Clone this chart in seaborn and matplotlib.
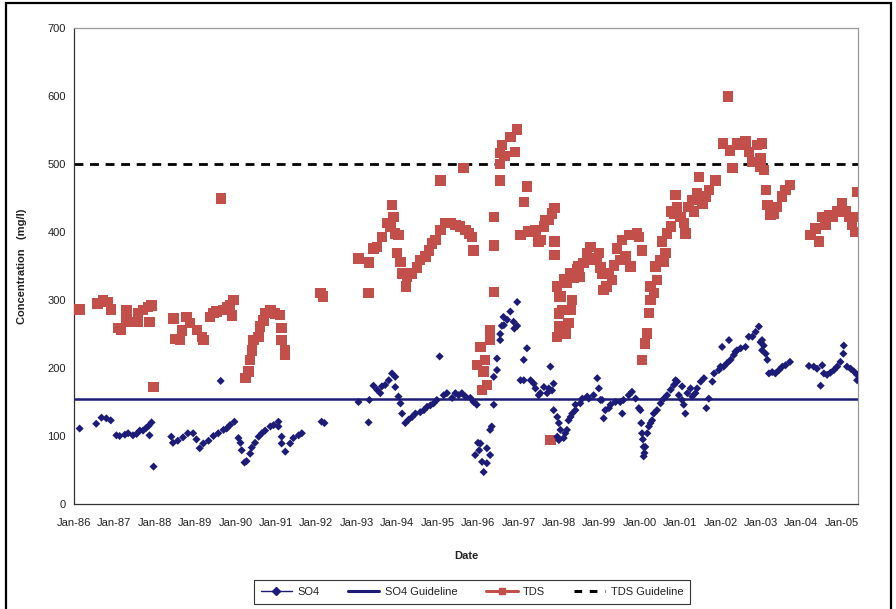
import numpy as np
import pandas as pd
import matplotlib
matplotlib.use("Agg")
import matplotlib.pyplot as plt
import matplotlib.dates as mdates
from matplotlib import font_manager
from matplotlib.lines import Line2D
from matplotlib.patches import Rectangle
import seaborn as sns

# ---- data: sample dates as decimal years, concentrations in mg/l ----
tds_year = [
    1986.14, 1986.58, 1986.72, 1986.84, 1986.91, 1987.09, 1987.17, 1987.30, 1987.30, 1987.38,
    1987.59, 1987.59, 1987.71, 1987.83, 1987.92, 1987.87, 1987.97, 1988.46, 1988.50, 1988.63,
    1988.67, 1988.79, 1988.87, 1989.04, 1989.16, 1989.20, 1989.37, 1989.45, 1989.53, 1989.63,
    1989.70, 1989.78, 1989.86, 1989.95, 1989.91, 1990.24, 1990.32, 1990.36, 1990.40, 1990.44,
    1990.57, 1990.61, 1990.69, 1990.73, 1990.86, 1990.98, 1991.10, 1991.14, 1991.14, 1991.23,
    1991.23, 1992.10, 1992.17, 1993.04, 1993.29, 1993.30, 1993.41, 1993.50, 1993.62, 1993.75,
    1993.83, 1993.87, 1993.91, 1993.95, 1994.03, 1993.99, 1994.08, 1994.12, 1994.22, 1994.24,
    1994.36, 1994.49, 1994.57, 1994.70, 1994.78, 1994.86, 1994.95, 1995.07, 1995.07, 1995.19,
    1995.32, 1995.44, 1995.56, 1995.64, 1995.69, 1995.77, 1995.85, 1995.89, 1995.97, 1996.06,
    1996.10, 1996.14, 1996.18, 1996.22, 1996.30, 1996.30, 1996.39, 1996.39, 1996.39, 1996.55,
    1996.55, 1996.55, 1996.59, 1996.66, 1996.80, 1996.92, 1996.97, 1997.05, 1997.13, 1997.21,
    1997.25, 1997.38, 1997.42, 1997.50, 1997.54, 1997.63, 1997.67, 1997.75, 1997.83, 1997.89,
    1997.89, 1997.89, 1997.79, 1997.96, 1997.96, 1998.00, 1998.00, 1998.02, 1998.04, 1998.08,
    1998.12, 1998.16, 1998.20, 1998.24, 1998.29, 1998.29, 1998.33, 1998.37, 1998.45, 1998.49,
    1998.53, 1998.61, 1998.70, 1998.78, 1998.86, 1998.95, 1998.99, 1999.03, 1999.07, 1999.11,
    1999.18, 1999.24, 1999.32, 1999.36, 1999.44, 1999.52, 1999.57, 1999.65, 1999.73, 1999.77,
    1999.85, 1999.94, 1999.98, 2000.06, 2000.06, 2000.14, 2000.19, 2000.23, 2000.27, 2000.27,
    2000.35, 2000.39, 2000.43, 2000.52, 2000.56, 2000.60, 2000.64, 2000.68, 2000.77, 2000.77,
    2000.85, 2000.89, 2000.93, 2001.01, 2001.09, 2001.13, 2001.21, 2001.30, 2001.34, 2001.42,
    2001.47, 2001.55, 2001.63, 2001.71, 2001.88, 2002.06, 2002.18, 2002.23, 2002.30, 2002.41,
    2002.50, 2002.62, 2002.70, 2002.79, 2002.91, 2002.99, 2002.99, 2003.03, 2003.07, 2003.12,
    2003.16, 2003.24, 2003.32, 2003.40, 2003.53, 2003.61, 2003.72, 2004.23, 2004.35, 2004.44,
    2004.52, 2004.60, 2004.68, 2004.77, 2004.89, 2005.01, 2005.10, 2005.18, 2005.26, 2005.30,
    2005.34, 2005.39,
]
tds_value = [
    286, 295, 300, 297, 286, 259, 256, 285, 270, 268,
    268, 281, 285, 290, 292, 268, 172, 273, 243, 241,
    255, 275, 266, 256, 246, 241, 275, 281, 283, 449,
    285, 290, 293, 300, 277, 185, 195, 212, 226, 241,
    246, 261, 270, 281, 285, 280, 278, 259, 241, 226,
    219, 310, 305, 361, 310, 355, 376, 378, 393, 413,
    408, 440, 422, 398, 396, 369, 356, 339, 320, 334,
    339, 348, 359, 364, 373, 383, 388, 476, 403, 413,
    413, 410, 408, 494, 403, 398, 393, 373, 204, 231,
    168, 195, 212, 175, 255, 241, 422, 380, 312, 476,
    516, 500, 528, 512, 540, 518, 551, 396, 444, 467,
    401, 400, 403, 386, 388, 408, 418, 418, 427, 435,
    386, 366, 94, 320, 246, 280, 304, 261, 305, 285,
    330, 251, 325, 266, 285, 339, 300, 332, 345, 349,
    334, 354, 369, 378, 359, 362, 369, 348, 339, 315,
    320, 339, 329, 351, 376, 359, 388, 364, 396, 349,
    396, 398, 393, 373, 212, 236, 251, 281, 300, 320,
    310, 349, 329, 359, 386, 356, 369, 398, 408, 430,
    427, 454, 437, 422, 413, 398, 437, 447, 430, 457,
    481, 442, 452, 462, 476, 530, 599, 520, 494, 530,
    528, 533, 518, 503, 528, 508, 496, 530, 491, 462,
    440, 425, 427, 437, 452, 462, 469, 396, 405, 386,
    422, 410, 425, 422, 430, 442, 430, 422, 410, 422,
    400, 459,
]

so4_year = [
    1986.14, 1986.55, 1986.68, 1986.80, 1986.91, 1987.05, 1987.13, 1987.26, 1987.34, 1987.46,
    1987.55, 1987.63, 1987.71, 1987.79, 1987.85, 1987.92, 1987.87, 1987.97, 1988.41, 1988.45,
    1988.57, 1988.70, 1988.82, 1988.95, 1989.03, 1989.11, 1989.20, 1989.33, 1989.45, 1989.57,
    1989.63, 1989.70, 1989.78, 1989.86, 1989.97, 1990.07, 1990.12, 1990.15, 1990.22, 1990.27,
    1990.36, 1990.40, 1990.48, 1990.57, 1990.65, 1990.73, 1990.86, 1990.94, 1991.06, 1991.06,
    1991.14, 1991.14, 1991.23, 1991.35, 1991.43, 1991.56, 1991.64, 1992.13, 1992.20, 1993.04,
    1993.29, 1993.31, 1993.41, 1993.50, 1993.58, 1993.62, 1993.70, 1993.79, 1993.87, 1993.95,
    1993.95, 1994.03, 1994.08, 1994.12, 1994.20, 1994.28, 1994.37, 1994.45, 1994.57, 1994.66,
    1994.74, 1994.82, 1994.90, 1994.98, 1995.05, 1995.15, 1995.23, 1995.36, 1995.44, 1995.52,
    1995.60, 1995.69, 1995.81, 1995.89, 1995.97, 1995.93, 1996.00, 1996.03, 1996.06, 1996.10,
    1996.14, 1996.22, 1996.22, 1996.30, 1996.30, 1996.34, 1996.39, 1996.39, 1996.47, 1996.47,
    1996.55, 1996.55, 1996.59, 1996.63, 1996.64, 1996.72, 1996.80, 1996.88, 1996.90, 1996.97,
    1996.97, 1997.05, 1997.13, 1997.13, 1997.21, 1997.30, 1997.38, 1997.42, 1997.50, 1997.54,
    1997.63, 1997.71, 1997.75, 1997.79, 1997.83, 1997.87, 1997.87, 1997.96, 1997.96, 1998.00,
    1998.00, 1998.04, 1998.12, 1998.16, 1998.20, 1998.24, 1998.29, 1998.33, 1998.41, 1998.41,
    1998.53, 1998.58, 1998.70, 1998.74, 1998.86, 1998.95, 1998.99, 1999.03, 1999.07, 1999.11,
    1999.15, 1999.24, 1999.28, 1999.40, 1999.52, 1999.57, 1999.60, 1999.73, 1999.81, 1999.90,
    1999.98, 2000.02, 2000.04, 2000.06, 2000.08, 2000.10, 2000.10, 2000.12, 2000.14, 2000.19,
    2000.23, 2000.27, 2000.31, 2000.35, 2000.43, 2000.52, 2000.60, 2000.68, 2000.77, 2000.85,
    2000.89, 2000.93, 2000.97, 2001.05, 2001.05, 2001.09, 2001.13, 2001.18, 2001.26, 2001.30,
    2001.38, 2001.42, 2001.51, 2001.59, 2001.65, 2001.71, 2001.80, 2001.84, 2001.96, 2002.00,
    2002.04, 2002.08, 2002.16, 2002.21, 2002.25, 2002.33, 2002.37, 2002.41, 2002.50, 2002.62,
    2002.70, 2002.79, 2002.87, 2002.95, 2002.99, 2003.03, 2003.03, 2003.07, 2003.12, 2003.16,
    2003.20, 2003.28, 2003.36, 2003.45, 2003.53, 2003.61, 2003.72, 2004.19, 2004.31, 2004.39,
    2004.48, 2004.52, 2004.56, 2004.64, 2004.72, 2004.81, 2004.89, 2004.97, 2005.04, 2005.05,
    2005.13, 2005.22, 2005.30, 2005.38, 2005.38,
]
so4_value = [
    111, 118, 127, 126, 123, 101, 100, 102, 104, 101,
    103, 108, 108, 112, 115, 120, 101, 55, 99, 90,
    93, 98, 104, 104, 95, 82, 89, 93, 100, 104,
    181, 109, 111, 116, 121, 97, 90, 79, 61, 63,
    74, 83, 90, 99, 104, 108, 114, 116, 121, 114,
    99, 89, 77, 89, 97, 101, 104, 121, 119, 150,
    120, 153, 174, 168, 163, 173, 175, 182, 192, 187,
    172, 158, 148, 133, 119, 124, 128, 133, 135, 138,
    143, 145, 148, 153, 217, 160, 163, 156, 163, 160,
    163, 158, 156, 150, 146, 72, 90, 79, 89, 62,
    47, 82, 60, 72, 109, 114, 146, 187, 197, 214,
    241, 250, 262, 275, 263, 271, 283, 268, 258, 262,
    297, 182, 182, 212, 229, 182, 177, 170, 160, 163,
    172, 163, 170, 202, 167, 177, 138, 128, 99, 119,
    94, 109, 97, 104, 109, 123, 128, 133, 138, 146,
    148, 155, 158, 155, 160, 185, 170, 153, 153, 126,
    138, 141, 146, 150, 150, 133, 153, 160, 165, 155,
    141, 138, 119, 104, 95, 84, 70, 75, 84, 104,
    114, 119, 123, 133, 138, 148, 155, 160, 168, 175,
    182, 180, 160, 153, 173, 146, 133, 163, 170, 158,
    163, 170, 180, 185, 141, 155, 180, 192, 197, 202,
    231, 202, 207, 241, 212, 219, 224, 226, 229, 231,
    246, 246, 253, 261, 238, 226, 241, 233, 221, 212,
    192, 194, 192, 197, 202, 204, 209, 203, 202, 199,
    174, 204, 192, 190, 193, 197, 202, 209, 221, 233,
    202, 199, 195, 190, 182,
]

so4_guideline = 155
tds_guideline = 500

y_ticks = [0, 100, 200, 300, 400, 500, 600, 700]
x_tick_years = list(range(1986, 2006))


def to_date(dec_year):
    whole = int(dec_year)
    return pd.Timestamp(year=whole, month=1, day=1) + pd.Timedelta(days=(dec_year - whole) * 365.25)


tds = pd.DataFrame({"date": [to_date(y) for y in tds_year], "conc": tds_value})
so4 = pd.DataFrame({"date": [to_date(y) for y in so4_year], "conc": so4_value})

# ---- style ----
sns.set_theme(style="white")
available = {f.name for f in font_manager.fontManager.ttflist}
family = "Liberation Sans Narrow" if "Liberation Sans Narrow" in available else "Liberation Sans"
plt.rcParams["font.family"] = [family, "DejaVu Sans"]

so4_color = "#1c1c78"
tds_color = "#c24f4a"
text_color = "#222222"

W, H = 896, 609
fig = plt.figure(figsize=(W / 100, H / 100), dpi=100)
fig.patch.set_facecolor("white")
ax = fig.add_axes([74 / W, 1 - 504 / H, (858 - 74) / W, (504 - 28) / H])

ax.axhline(so4_guideline, color=so4_color, lw=1.8, zorder=2)
ax.axhline(tds_guideline, color="black", lw=2.0, ls=(0, (3.2, 2.4)), zorder=2)

sns.scatterplot(data=tds, x="date", y="conc", ax=ax, marker="s", s=56,
                color=tds_color, edgecolor="none", linewidth=0, zorder=3)
sns.scatterplot(data=so4, x="date", y="conc", ax=ax, marker="D", s=17,
                color=so4_color, edgecolor="none", linewidth=0, zorder=4)

# ---- axes ----
ax.set_xlim(pd.Timestamp("1986-01-01"), pd.Timestamp("2005-05-28"))
ax.set_ylim(0, 700)
ax.set_yticks(y_ticks)
ax.set_xticks([pd.Timestamp(year=y, month=1, day=1) for y in x_tick_years])
ax.xaxis.set_major_formatter(mdates.DateFormatter("%b-%y"))
ax.tick_params(axis="both", which="major", direction="out", length=4, width=0.8,
               color="#333333", labelsize=8, labelcolor=text_color, pad=3)
ax.tick_params(axis="x", pad=6)
ax.tick_params(axis="y", pad=2)

for side in ("left", "bottom"):
    ax.spines[side].set_color("#333333")
    ax.spines[side].set_linewidth(0.9)
for side in ("top", "right"):
    ax.spines[side].set_color("#9a9a9a")
    ax.spines[side].set_linewidth(0.9)

ax.set_xlabel("")
ax.set_ylabel("")
fig.text(22 / W, 1 - 266 / H, "Concentration   (mg/l)", rotation=90, ha="center", va="center",
         fontsize=8, fontweight="bold", color=text_color)
fig.text(466 / W, 1 - 556 / H, "Date", ha="center", va="center",
         fontsize=8, fontweight="bold", color=text_color)

# ---- legend ----
handles = [
    Line2D([], [], color=so4_color, lw=1.0, marker="D", markersize=4),
    Line2D([], [], color=so4_color, lw=2.2),
    Line2D([], [], color=tds_color, lw=2.2, marker="s", markersize=5),
    Line2D([], [], color="black", lw=2.2, ls=(0, (2.5, 2.5))),
]
labels = ["SO4", "SO4 Guideline", "TDS", "TDS Guideline"]
leg = fig.legend(handles, labels, loc="center", bbox_to_anchor=(472 / W, 1 - 592 / H),
                 ncol=4, frameon=True, fancybox=False, edgecolor="black", fontsize=8,
                 handlelength=2.8, columnspacing=2.6, handletextpad=0.5, borderpad=0.6,
                 borderaxespad=0)
leg.get_frame().set_linewidth(0.8)
for t in leg.get_texts():
    t.set_color(text_color)

# outer chart border
fig.patches.append(Rectangle((6 / W, -0.02), (891 - 6) / W, 1.02 - 3 / H, transform=fig.transFigure,
                             fill=False, edgecolor="black", lw=1.6, zorder=10))

fig.savefig("out.png", dpi=100, facecolor="white")
